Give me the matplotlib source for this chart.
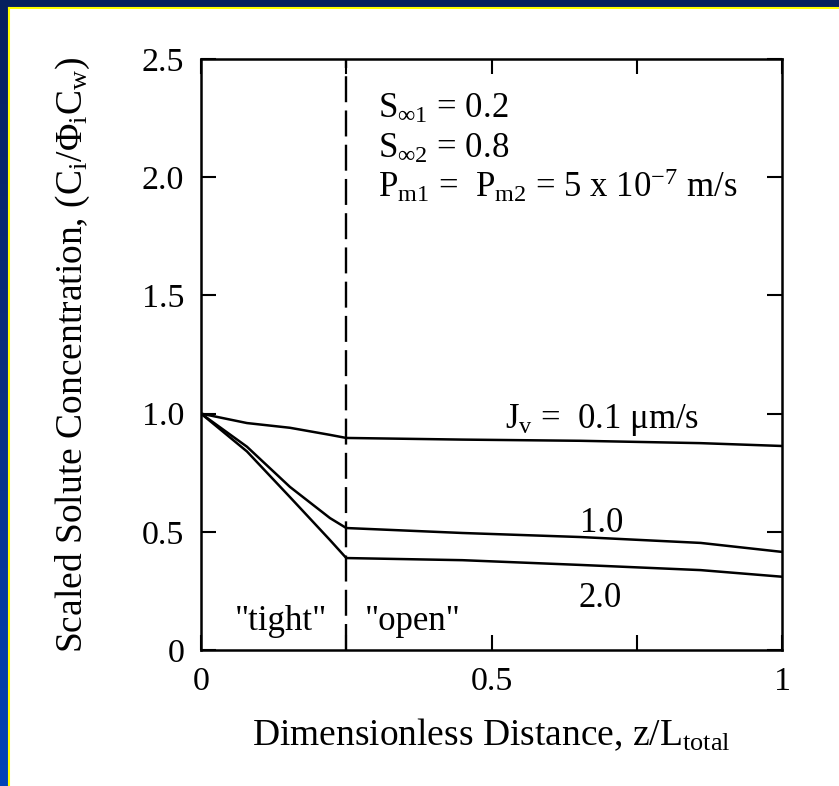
import numpy as np
import matplotlib
matplotlib.use("Agg")
import matplotlib.pyplot as plt
from matplotlib.patches import Rectangle
from matplotlib.colors import LinearSegmentedColormap

plt.rcParams['font.family'] = ['Liberation Serif', 'DejaVu Serif']
plt.rcParams['mathtext.fontset'] = 'custom'
plt.rcParams['mathtext.rm'] = 'Liberation Serif'
plt.rcParams['mathtext.it'] = 'Liberation Serif:italic'

# data
z = [0.0, 0.079, 0.153, 0.222, 0.25, 0.45, 0.652, 0.86, 1.0]
c_jv01 = [1.0, 0.96, 0.94, 0.91, 0.897, 0.89, 0.885, 0.875, 0.863]
c_jv10 = [1.0, 0.86, 0.69, 0.558, 0.516, 0.495, 0.478, 0.453, 0.415]
c_jv20 = [1.0, 0.84, 0.647, 0.465, 0.389, 0.38, 0.36, 0.338, 0.31]
z_boundary = 0.25

y_ticks = [0, 0.5, 1.0, 1.5, 2.0, 2.5]
y_ticklabels = ["0", "0.5", "1.0", "1.5", "2.0", "2.5"]
x_ticks = [0, 0.25, 0.5, 0.75, 1.0]
x_ticklabels = ["0", "", "0.5", "", "1"]

fig = plt.figure(figsize=(8.39, 7.86), dpi=100)

# slide background: blue frame with white panel
bg = fig.add_axes([0, 0, 1, 1], zorder=-10)
cmap = LinearSegmentedColormap.from_list("slide", ["#06205e", "#0a2f80", "#0043b8"])
grad = np.linspace(0, 1, 256).reshape(-1, 1)
bg.imshow(grad, aspect='auto', cmap=cmap, extent=[0, 839, 786, 0])
bg.add_patch(Rectangle((10, 9), 829, 777, facecolor='white', edgecolor='none'))
bg.plot([9, 9], [8, 786], color='#ffff00', lw=1.5)
bg.plot([9, 839], [8, 8], color='#ffff00', lw=1.5)
bg.set_xlim(0, 839)
bg.set_ylim(786, 0)
bg.axis('off')

ax = fig.add_axes([0.2396, 0.173, 0.6925, 0.752])
ax.set_facecolor('none')

for c in (c_jv01, c_jv10, c_jv20):
    ax.plot(z, c, color='black', lw=1.8)

ax.axvline(z_boundary, color='black', lw=1.7, dashes=(11, 3.5))

ax.set_xlim(0, 1)
ax.set_ylim(0, 2.5)
ax.set_yticks(y_ticks)
ax.set_yticklabels(y_ticklabels)
ax.set_xticks(x_ticks)
ax.set_xticklabels(x_ticklabels)
ax.tick_params(direction='in', length=11, width=1.5, top=True, right=True,
               labelsize=24.5, pad=12)
for s in ax.spines.values():
    s.set_linewidth(1.8)

ax.set_xlabel(r"Dimensionless Distance, z/L$_{\mathrm{total}}$", fontsize=27, labelpad=14)
ax.set_ylabel(r"Scaled Solute Concentration, (C$_{\mathrm{i}}$/$\Phi_{\mathrm{i}}$C$_{\mathrm{w}}$)",
              fontsize=27, labelpad=36)

fs = 25
ax.text(0.305, 2.25, r"S$_{\infty 1}$ = 0.2", fontsize=fs)
ax.text(0.305, 2.08, r"S$_{\infty 2}$ = 0.8", fontsize=fs)
ax.text(0.305, 1.916, r"P$_{\mathrm{m1}}$ =  P$_{\mathrm{m2}}$ = 5 x 10$^{-7}$ m/s", fontsize=fs)
ax.text(0.523, 0.94, r"J$_{\mathrm{v}}$ =  0.1 μm/s", fontsize=fs)
ax.text(0.652, 0.50, "1.0", fontsize=fs)
ax.text(0.65, 0.18, "2.0", fontsize=fs)
ax.text(0.058, 0.085, '"tight"', fontsize=fs)
ax.text(0.282, 0.085, '"open"', fontsize=fs)

fig.savefig("out.png", dpi=100)
